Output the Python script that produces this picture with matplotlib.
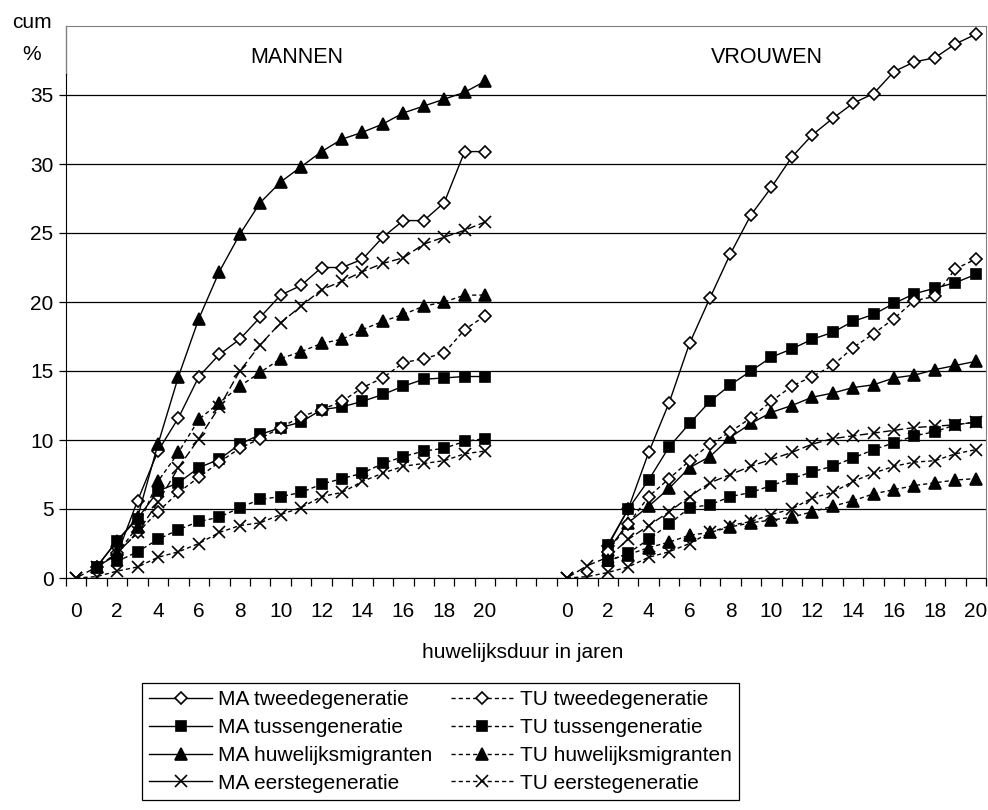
import numpy as np
import matplotlib.pyplot as plt
from matplotlib.lines import Line2D

plt.rcParams['font.family'] = ['Liberation Sans', 'DejaVu Sans']

nan = np.nan
duur = np.arange(21)          # huwelijksduur 0..20 jaar
vrouw_offset = 24             # vrouwen rechts naast de mannen, 3 lege categorieen ertussen

# cumulatief percentage, mannen
man_ma_tweede = [nan, 0.8, 1.7, 5.6, 9.2, 11.6, 14.6, 16.2, 17.3, 18.9, 20.5, 21.2, 22.5, 22.5, 23.1, 24.7, 25.9, 25.9, 27.2, 30.9, 30.9]
man_ma_tussen = [nan, 0.8, 2.7, 4.3, 6.3, 6.9, 8.0, 8.6, 9.7, 10.4, 10.9, 11.3, 12.2, 12.4, 12.8, 13.3, 13.9, 14.4, 14.5, 14.6, 14.6]
man_ma_huw = [nan, 0.8, 2.7, 4.4, 9.7, 14.6, 18.8, 22.2, 24.9, 27.2, 28.7, 29.8, 30.9, 31.8, 32.3, 32.9, 33.7, 34.2, 34.7, 35.2, 36.0]
man_ma_eerste = [0.0, 0.8, 1.8, 3.3, 5.5, 8.0, 10.1, 12.4, 15.0, 16.9, 18.5, 19.7, 20.9, 21.5, 22.2, 22.8, 23.2, 24.2, 24.7, 25.2, 25.8]
man_tu_tweede = [nan, nan, 1.8, 3.3, 4.8, 6.2, 7.3, 8.4, 9.4, 10.1, 10.9, 11.7, 12.2, 12.8, 13.8, 14.5, 15.6, 15.9, 16.3, 18.0, 19.0]
man_tu_tussen = [nan, nan, 1.2, 1.9, 2.8, 3.5, 4.1, 4.4, 5.1, 5.7, 5.9, 6.2, 6.8, 7.2, 7.6, 8.3, 8.8, 9.2, 9.4, 9.9, 10.1]
man_tu_huw = [nan, nan, 1.8, 3.7, 7.0, 9.1, 11.5, 12.7, 13.9, 14.9, 15.9, 16.4, 17.0, 17.3, 18.0, 18.6, 19.1, 19.7, 20.0, 20.5, 20.5]
man_tu_eerste = [0.0, 0.1, 0.5, 0.8, 1.5, 1.9, 2.5, 3.3, 3.8, 4.0, 4.6, 5.1, 5.9, 6.2, 7.0, 7.6, 8.1, 8.3, 8.5, 9.0, 9.2]

# cumulatief percentage, vrouwen
vrouw_ma_tweede = [nan, nan, 2.3, 5.0, 9.1, 12.7, 17.0, 20.3, 23.5, 26.3, 28.3, 30.5, 32.1, 33.3, 34.4, 35.1, 36.7, 37.4, 37.7, 38.7, 39.4]
vrouw_ma_tussen = [nan, nan, 2.4, 5.0, 7.1, 9.5, 11.2, 12.8, 14.0, 15.0, 16.0, 16.6, 17.3, 17.8, 18.6, 19.1, 19.9, 20.6, 21.0, 21.4, 22.0]
vrouw_ma_huw = [nan, nan, 2.0, 4.0, 5.2, 6.5, 8.0, 8.8, 10.2, 11.2, 12.0, 12.5, 13.1, 13.4, 13.8, 14.0, 14.5, 14.7, 15.1, 15.4, 15.7]
vrouw_ma_eerste = [0.0, 0.9, 1.5, 2.8, 3.8, 4.8, 5.9, 6.9, 7.5, 8.1, 8.6, 9.1, 9.7, 10.1, 10.3, 10.5, 10.7, 10.9, 11.0, 11.1, 11.3]
vrouw_tu_tweede = [nan, nan, 1.9, 3.9, 5.9, 7.2, 8.5, 9.7, 10.6, 11.6, 12.8, 13.9, 14.6, 15.4, 16.7, 17.7, 18.8, 20.1, 20.4, 22.4, 23.1]
vrouw_tu_tussen = [nan, nan, 1.2, 1.8, 2.8, 3.9, 5.1, 5.3, 5.9, 6.2, 6.7, 7.2, 7.7, 8.1, 8.7, 9.3, 9.8, 10.3, 10.6, 11.1, 11.3]
vrouw_tu_huw = [nan, nan, 1.3, 1.7, 2.2, 2.6, 3.1, 3.3, 3.7, 4.0, 4.2, 4.4, 4.8, 5.2, 5.6, 6.1, 6.4, 6.7, 6.9, 7.1, 7.2]
vrouw_tu_eerste = [0.0, 0.1, 0.4, 0.8, 1.5, 1.9, 2.5, 3.3, 3.8, 4.1, 4.6, 5.0, 5.8, 6.2, 7.0, 7.6, 8.1, 8.4, 8.5, 9.0, 9.3]

labels = ['MA tweedegeneratie', 'MA tussengeneratie', 'MA huwelijksmigranten', 'MA eerstegeneratie',
          'TU tweedegeneratie', 'TU tussengeneratie', 'TU huwelijksmigranten', 'TU eerstegeneratie']
mannen = [man_ma_tweede, man_ma_tussen, man_ma_huw, man_ma_eerste,
          man_tu_tweede, man_tu_tussen, man_tu_huw, man_tu_eerste]
vrouwen = [vrouw_ma_tweede, vrouw_ma_tussen, vrouw_ma_huw, vrouw_ma_eerste,
           vrouw_tu_tweede, vrouw_tu_tussen, vrouw_tu_huw, vrouw_tu_eerste]

markers = ['D', 's', '^', 'x'] * 2
msizes = {'D': 5.8, 's': 7.4, '^': 8.2, 'x': 8.2}
gestippeld = (0, (3, 2.2))
lijnen = ['-', '-', '-', (0, (6, 2.5))] + [gestippeld] * 4
legend_lijnen = ['-'] * 4 + [gestippeld] * 4

fs = 15

fig = plt.figure(figsize=(9.88, 8.10), dpi=100)
ax = fig.add_axes([66 / 988, 1 - 578 / 810, 920 / 988, 552 / 810])

handles = []
for i in range(8):
    m = markers[i]
    style = dict(color='black', lw=1.0, marker=m, ms=msizes[m],
                 mfc='white' if m == 'D' else 'black', mec='black', mew=1.2)
    ax.plot(duur, mannen[i], ls=lijnen[i], zorder=3, **style)
    ax.plot(duur + vrouw_offset, vrouwen[i], ls=lijnen[i], zorder=3, **style)
    handles.append(Line2D([], [], ls=legend_lijnen[i], **style))

ax.set_xlim(-0.5, 44.5)
ax.set_ylim(0, 40)

# y-as
ax.set_yticks(np.arange(0, 40, 5))
ax.yaxis.grid(True, color='black', lw=0.9)
ax.set_axisbelow(True)
ax.tick_params(axis='y', direction='out', length=5, width=0.9, labelsize=fs, pad=4)

# x-as: streepjes tussen de categorieen, labels om de twee jaar
ax.set_xticks(np.arange(-0.5, 45, 1))
ax.set_xticklabels([])
ax.tick_params(axis='x', which='major', direction='out', length=6, width=0.9)
pos = list(range(0, 21, 2)) + [p + vrouw_offset for p in range(0, 21, 2)]
ax.set_xticks(pos, minor=True)
ax.set_xticklabels([str(p) for p in range(0, 21, 2)] * 2, minor=True)
ax.tick_params(axis='x', which='minor', length=0, labelsize=fs, pad=17)

for side in ['top', 'right']:
    ax.spines[side].set_color('#808080')
ax.spines['left'].set_bounds(0, 36.5)
ax.spines['bottom'].set_color('black')
ax.plot([-0.5, -0.5], [36.5, 40], color='#808080', lw=1, clip_on=False, zorder=1)

ax.text(10.8, 37.7, 'MANNEN', ha='center', va='center', fontsize=15.5)
ax.text(33.8, 37.7, 'VROUWEN', ha='center', va='center', fontsize=15.5)

fig.text(32 / 988, 1 - 22 / 810, 'cum', ha='center', va='center', fontsize=fs)
fig.text(32 / 988, 1 - 55 / 810, '%', ha='center', va='center', fontsize=fs)
fig.text(523 / 988, 1 - 653 / 810, 'huwelijksduur in jaren', ha='center', va='center', fontsize=fs)

leg = fig.legend(handles, labels, ncol=2, loc='upper left',
                 bbox_to_anchor=(142 / 988, 1 - 683 / 810), fontsize=fs,
                 frameon=True, fancybox=False, edgecolor='black', framealpha=1,
                 handlelength=3.0, handletextpad=0.3, columnspacing=0.9,
                 labelspacing=0.42, borderpad=0.35, borderaxespad=0)
leg.get_frame().set_linewidth(0.9)

fig.savefig('out.png', dpi=100)
